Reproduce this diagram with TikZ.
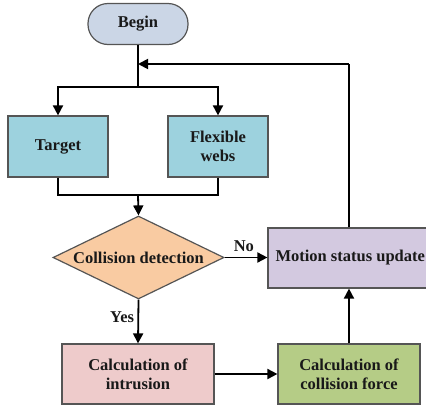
\documentclass[tikz,border=0pt]{standalone}
\usepackage{fontspec}
\setmainfont{Liberation Serif}
\usetikzlibrary{shapes.geometric,arrows.meta}
\definecolor{beginc}{HTML}{CBD6E6}
\definecolor{bluec}{HTML}{9DD2DE}
\definecolor{orangec}{HTML}{F9CBA2}
\definecolor{purplec}{HTML}{D3C9E0}
\definecolor{pinkc}{HTML}{EECBCB}
\definecolor{greenc}{HTML}{B5CC86}
\definecolor{edgec}{HTML}{555555}
\begin{document}
\begin{tikzpicture}[x=1pt,y=-1pt,
  txt/.style={font=\fontsize{16.5}{19}\selectfont\bfseries, text=black!90, align=center},
  box/.style={txt, draw=edgec, line width=1.2pt, inner sep=0pt},
  conn/.style={line width=1.8pt, -{Triangle[length=10pt,width=10pt]}},
  plain/.style={line width=1.8pt}]
\useasboundingbox (0,0) rectangle (426,407);
\clip (0,0) rectangle (426,407);
\node[box, fill=beginc, rounded corners=20pt, minimum width=100pt, minimum height=41pt] (begin) at (138,24) {Begin};
\node[box, fill=bluec, minimum width=100pt, minimum height=61pt] (target) at (58,146.5) {Target};
\node[box, fill=bluec, minimum width=100pt, minimum height=61pt] (webs) at (218,146.5) {Flexible\\webs};
\node[box, fill=orangec, diamond, aspect=2.06, minimum width=171pt, minimum height=83pt, inner sep=0pt] (coll) at (138.5,257.5) {};
\node[txt] at (coll.center) {Collision detection};
\node[box, fill=purplec, minimum width=162pt, minimum height=60pt] (motion) at (349,258) {};
\node[txt, anchor=west] at (272,258) {Motion status update};
\node[box, fill=pinkc, minimum width=152pt, minimum height=60pt] (intr) at (138,374) {Calculation of\\intrusion};
\node[box, fill=greenc, minimum width=142pt, minimum height=60pt] (force) at (349,374) {Calculation of\\collision force};
\coordinate (split) at (138,87);
\coordinate (merge) at (138,195);
\coordinate (fb) at (138,64);
\coordinate (fbr) at (349,64);
\draw[plain] (begin.south) -- (split);
\draw[conn] (split) -| (target.north);
\draw[conn] (split) -| (webs.north);
\draw[plain] (target.south) |- (merge);
\draw[plain] (webs.south) |- (merge);
\draw[conn] (merge) -- (coll.north);
\draw[conn] (coll.east) -- node[txt, above, pos=0.45, yshift=2pt] {No} (coll.east -| motion.west);
\draw[conn] (coll.south) -- node[txt, left, pos=0.4] {Yes} (intr.north);
\draw[conn] (intr.east) -- (force.west);
\draw[conn] (force.north) -- (motion.south -| force.north);
\draw[plain] (motion.north -| fbr) -- (fbr);
\draw[conn] (fbr) -- (fb);
\end{tikzpicture}
\end{document}
